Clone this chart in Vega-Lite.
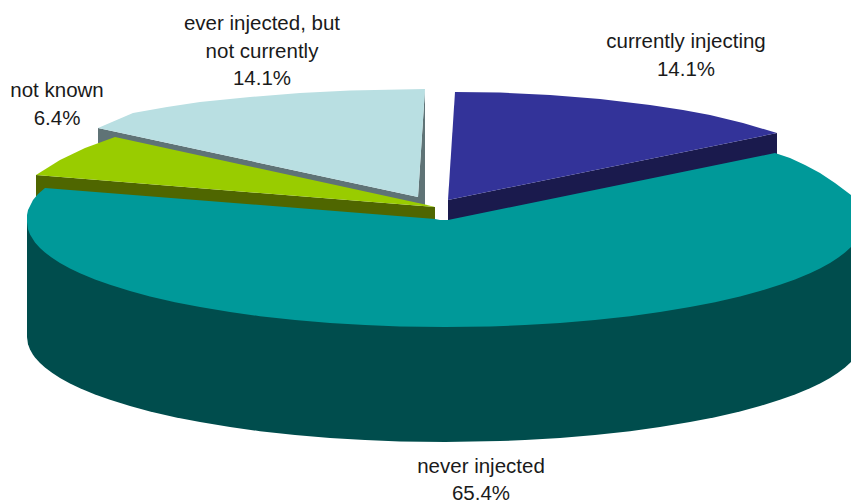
{
  "$schema": "https://vega.github.io/schema/vega-lite/v6.json",
  "width": 851,
  "height": 502,
  "padding": 0,
  "autosize": "none",
  "background": "white",
  "config": {"view": {"stroke": null}},
  "datasets": {
    "outline": [
      {"part":"never injected side","i":0,"x":-418,"y":0},
      {"part":"never injected side","i":1,"x":-418,"y":-115},
      {"part":"never injected side","i":2,"x":-417,"y":-122.3},
      {"part":"never injected side","i":3,"x":-415,"y":-127.6},
      {"part":"never injected side","i":4,"x":-412,"y":-132.7},
      {"part":"never injected side","i":5,"x":-410,"y":-135.4},
      {"part":"never injected side","i":6,"x":-405,"y":-141},
      {"part":"never injected side","i":7,"x":-400,"y":-145.5},
      {"part":"never injected side","i":8,"x":-393,"y":-150.8},
      {"part":"never injected side","i":9,"x":-385,"y":-155.9},
      {"part":"never injected side","i":10,"x":-375,"y":-161.4},
      {"part":"never injected side","i":11,"x":-365,"y":-166.2},
      {"part":"never injected side","i":12,"x":-350,"y":-172.4},
      {"part":"never injected side","i":13,"x":-335,"y":-177.8},
      {"part":"never injected side","i":14,"x":-315,"y":-184},
      {"part":"never injected side","i":15,"x":-295,"y":-189.4},
      {"part":"never injected side","i":16,"x":-270,"y":-195.2},
      {"part":"never injected side","i":17,"x":-245,"y":-200.1},
      {"part":"never injected side","i":18,"x":-215,"y":-205},
      {"part":"never injected side","i":19,"x":-185,"y":-209.2},
      {"part":"never injected side","i":20,"x":-150,"y":-213},
      {"part":"never injected side","i":21,"x":-115,"y":-215.9},
      {"part":"never injected side","i":22,"x":-80,"y":-218.1},
      {"part":"never injected side","i":23,"x":-45,"y":-219.4},
      {"part":"never injected side","i":24,"x":0,"y":-220},
      {"part":"never injected side","i":25,"x":55,"y":-219.1},
      {"part":"never injected side","i":26,"x":80,"y":-218.1},
      {"part":"never injected side","i":27,"x":115,"y":-215.9},
      {"part":"never injected side","i":28,"x":150,"y":-213},
      {"part":"never injected side","i":29,"x":185,"y":-209.2},
      {"part":"never injected side","i":30,"x":215,"y":-205},
      {"part":"never injected side","i":31,"x":245,"y":-200.1},
      {"part":"never injected side","i":32,"x":270,"y":-195.2},
      {"part":"never injected side","i":33,"x":295,"y":-189.4},
      {"part":"never injected side","i":34,"x":315,"y":-184},
      {"part":"never injected side","i":35,"x":335,"y":-177.8},
      {"part":"never injected side","i":36,"x":350,"y":-172.4},
      {"part":"never injected side","i":37,"x":365,"y":-166.2},
      {"part":"never injected side","i":38,"x":375,"y":-161.4},
      {"part":"never injected side","i":39,"x":385,"y":-155.9},
      {"part":"never injected side","i":40,"x":393,"y":-150.8},
      {"part":"never injected side","i":41,"x":400,"y":-145.5},
      {"part":"never injected side","i":42,"x":406,"y":-140},
      {"part":"never injected side","i":43,"x":406,"y":-23},

      {"part":"ever injected side","i":0,"x":-347,"y":94},
      {"part":"ever injected side","i":1,"x":-27,"y":25},
      {"part":"ever injected side","i":2,"x":-20,"y":133},
      {"part":"ever injected side","i":3,"x":-20,"y":17},
      {"part":"ever injected side","i":4,"x":-347,"y":79},

      {"part":"ever injected top","i":0,"x":-27,"y":25},
      {"part":"ever injected top","i":1,"x":-347,"y":94},
      {"part":"ever injected top","i":2,"x":-312,"y":109},
      {"part":"ever injected top","i":3,"x":-278,"y":115},
      {"part":"ever injected top","i":4,"x":-245,"y":120},
      {"part":"ever injected top","i":5,"x":-195,"y":125},
      {"part":"ever injected top","i":6,"x":-145,"y":129},
      {"part":"ever injected top","i":7,"x":-95,"y":131.5},
      {"part":"ever injected top","i":8,"x":-20,"y":133},

      {"part":"not known side","i":0,"x":-409,"y":47},
      {"part":"not known side","i":1,"x":-10,"y":15},
      {"part":"not known side","i":2,"x":-10,"y":1},
      {"part":"not known side","i":3,"x":-400,"y":32},
      {"part":"not known side","i":4,"x":-409,"y":25},

      {"part":"not known top","i":0,"x":-409,"y":47},
      {"part":"not known top","i":1,"x":-385,"y":62},
      {"part":"not known top","i":2,"x":-360,"y":74},
      {"part":"not known top","i":3,"x":-330,"y":85},
      {"part":"not known top","i":4,"x":-20,"y":17.4},
      {"part":"not known top","i":5,"x":-10,"y":15},

      {"part":"currently injecting side","i":0,"x":3,"y":22},
      {"part":"currently injecting side","i":1,"x":332,"y":89},
      {"part":"currently injecting side","i":2,"x":332,"y":67},
      {"part":"currently injecting side","i":3,"x":3,"y":0},

      {"part":"currently injecting top","i":0,"x":3,"y":22},
      {"part":"currently injecting top","i":1,"x":10,"y":130},
      {"part":"currently injecting top","i":2,"x":55,"y":129.5},
      {"part":"currently injecting top","i":3,"x":105,"y":127},
      {"part":"currently injecting top","i":4,"x":155,"y":123},
      {"part":"currently injecting top","i":5,"x":205,"y":117},
      {"part":"currently injecting top","i":6,"x":238,"y":112},
      {"part":"currently injecting top","i":7,"x":265,"y":107},
      {"part":"currently injecting top","i":8,"x":298,"y":99},
      {"part":"currently injecting top","i":9,"x":332,"y":89},

      {"part":"never injected top","i":0,"x":-10,"y":3},
      {"part":"never injected top","i":1,"x":-5,"y":2},
      {"part":"never injected top","i":2,"x":3,"y":2},
      {"part":"never injected top","i":3,"x":330,"y":69},
      {"part":"never injected top","i":4,"x":345,"y":64},
      {"part":"never injected top","i":5,"x":360,"y":57},
      {"part":"never injected top","i":6,"x":375,"y":49},
      {"part":"never injected top","i":7,"x":390,"y":39},
      {"part":"never injected top","i":8,"x":406,"y":27},
      {"part":"never injected top","i":9,"x":406,"y":-25},
      {"part":"never injected top","i":10,"x":400,"y":-30.5},
      {"part":"never injected top","i":11,"x":393,"y":-35.8},
      {"part":"never injected top","i":12,"x":385,"y":-40.9},
      {"part":"never injected top","i":13,"x":375,"y":-46.4},
      {"part":"never injected top","i":14,"x":365,"y":-51.2},
      {"part":"never injected top","i":15,"x":350,"y":-57.4},
      {"part":"never injected top","i":16,"x":335,"y":-62.8},
      {"part":"never injected top","i":17,"x":315,"y":-69},
      {"part":"never injected top","i":18,"x":295,"y":-74.4},
      {"part":"never injected top","i":19,"x":270,"y":-80.2},
      {"part":"never injected top","i":20,"x":245,"y":-85.1},
      {"part":"never injected top","i":21,"x":215,"y":-90},
      {"part":"never injected top","i":22,"x":185,"y":-94.2},
      {"part":"never injected top","i":23,"x":150,"y":-98},
      {"part":"never injected top","i":24,"x":115,"y":-100.9},
      {"part":"never injected top","i":25,"x":80,"y":-103.1},
      {"part":"never injected top","i":26,"x":45,"y":-104.4},
      {"part":"never injected top","i":27,"x":0,"y":-105},
      {"part":"never injected top","i":28,"x":-45,"y":-104.4},
      {"part":"never injected top","i":29,"x":-80,"y":-103.1},
      {"part":"never injected top","i":30,"x":-115,"y":-100.9},
      {"part":"never injected top","i":31,"x":-150,"y":-98},
      {"part":"never injected top","i":32,"x":-185,"y":-94.2},
      {"part":"never injected top","i":33,"x":-215,"y":-90},
      {"part":"never injected top","i":34,"x":-245,"y":-85.1},
      {"part":"never injected top","i":35,"x":-270,"y":-80.2},
      {"part":"never injected top","i":36,"x":-295,"y":-74.4},
      {"part":"never injected top","i":37,"x":-315,"y":-69},
      {"part":"never injected top","i":38,"x":-335,"y":-62.8},
      {"part":"never injected top","i":39,"x":-350,"y":-57.4},
      {"part":"never injected top","i":40,"x":-365,"y":-51.2},
      {"part":"never injected top","i":41,"x":-375,"y":-46.4},
      {"part":"never injected top","i":42,"x":-385,"y":-40.9},
      {"part":"never injected top","i":43,"x":-393,"y":-35.8},
      {"part":"never injected top","i":44,"x":-400,"y":-30.5},
      {"part":"never injected top","i":45,"x":-405,"y":-26},
      {"part":"never injected top","i":46,"x":-410,"y":-20.4},
      {"part":"never injected top","i":47,"x":-415,"y":-12.6},
      {"part":"never injected top","i":48,"x":-417,"y":-7.3},
      {"part":"never injected top","i":49,"x":-418,"y":0},
      {"part":"never injected top","i":50,"x":-418,"y":7},
      {"part":"never injected top","i":51,"x":-417,"y":12},
      {"part":"never injected top","i":52,"x":-412,"y":22},
      {"part":"never injected top","i":53,"x":-407,"y":28},
      {"part":"never injected top","i":54,"x":-400,"y":34}
    ],
    "captions": [
      {"caption":"currently injecting\n14.1%","x":241,"y":174},
      {"caption":"not known\n6.4%","x":-388,"y":125},
      {"caption":"ever injected, but\nnot currently\n14.1%","x":-183,"y":192},
      {"caption":"never injected\n65.4%","x":36,"y":-250.5}
    ]
  },
  "layer": [
    {
      "data": {"name": "outline"},
      "mark": {"type": "line", "filled": true, "strokeWidth": 0, "interpolate": "linear-closed"},
      "encoding": {
        "x": {"field": "x", "type": "quantitative", "scale": {"domain": [-445, 406]}, "axis": null},
        "y": {"field": "y", "type": "quantitative", "scale": {"domain": [-280, 222]}, "axis": null},
        "order": {"field": "i", "type": "quantitative"},
        "color": {
          "field": "part",
          "type": "nominal",
          "legend": null,
          "scale": {
            "domain": ["never injected side","never injected top","ever injected side","ever injected top","not known side","not known top","currently injecting side","currently injecting top"],
            "range": ["#004D4D","#009999","#5F7376","#B9DFE2","#4F6600","#99CC00","#1A1A4D","#333399"]
          }
        }
      }
    },
    {
      "data": {"name": "captions"},
      "mark": {"type": "text", "font": "Liberation Sans", "fontSize": 20.5, "lineBreak": "\n", "lineHeight": 27.5, "align": "center", "baseline": "alphabetic", "color": "#1a1a1a"},
      "encoding": {
        "x": {"field": "x", "type": "quantitative", "scale": {"domain": [-445, 406]}, "axis": null},
        "y": {"field": "y", "type": "quantitative", "scale": {"domain": [-280, 222]}, "axis": null},
        "text": {"field": "caption"}
      }
    }
  ]
}
